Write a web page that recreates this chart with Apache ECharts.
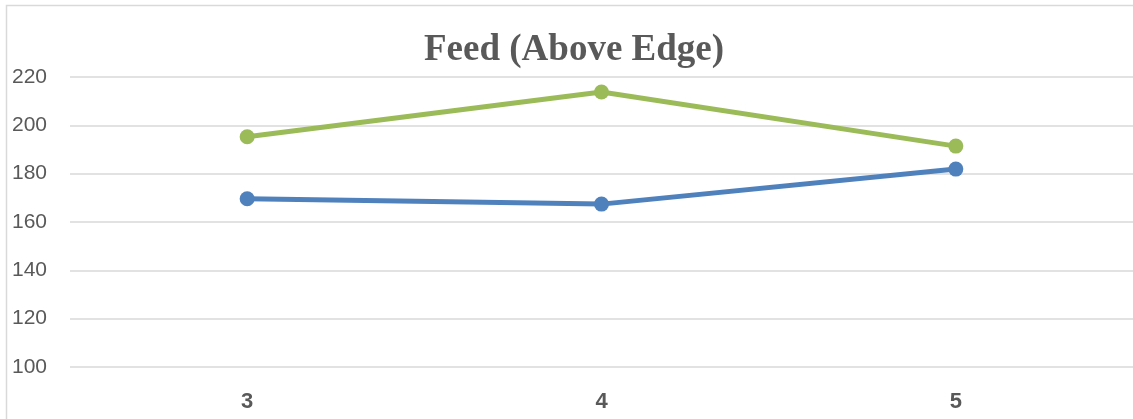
<!DOCTYPE html>
<html>
<head>
<meta charset="utf-8">
<script src="https://cdn.jsdelivr.net/npm/echarts@6/dist/echarts.min.js"></script>
<style>
html, body { margin: 0; padding: 0; background: #fff; }
#chart { width: 1133px; height: 419px; }
</style>
</head>
<body>
<div id="chart"></div>
<script>
// Feed readings per position
const categories = ['3', '4', '5'];
const seriesGreen = [195.3, 213.8, 191.4];
const seriesBlue = [169.6, 167.4, 181.9];
const yTicks = { min: 100, max: 220, interval: 20 };

const chart = echarts.init(document.getElementById('chart'), null, { renderer: 'canvas' });

const lineStyle = (color) => ({
  type: 'line',
  symbol: 'circle',
  symbolSize: 15,
  lineStyle: { color: color, width: 5 },
  itemStyle: { color: color },
  animation: false
});

chart.setOption({
  animation: false,
  graphic: [{
    type: 'rect',
    shape: { x: 6.5, y: 5.5, width: 1200, height: 500 },
    style: { fill: 'none', stroke: '#d9d9d9', lineWidth: 1.5 },
    silent: true
  }],
  title: {
    text: 'Feed (Above Edge)',
    left: 419,
    top: 27,
    textStyle: {
      fontFamily: 'Liberation Serif',
      fontWeight: 'bold',
      fontSize: 37,
      color: '#595959'
    }
  },
  grid: { left: 70, right: 0, top: 77, bottom: 52 },
  xAxis: {
    type: 'category',
    data: categories,
    boundaryGap: true,
    axisLine: { show: false },
    axisTick: { show: false },
    axisLabel: {
      margin: 24,
      fontFamily: 'Liberation Sans',
      fontWeight: 'bold',
      fontSize: 22,
      color: '#595959'
    }
  },
  yAxis: {
    type: 'value',
    min: yTicks.min,
    max: yTicks.max,
    interval: yTicks.interval,
    axisLine: { show: false },
    axisTick: { show: false },
    splitLine: { lineStyle: { color: '#d9d9d9', width: 1.5 } },
    axisLabel: {
      margin: 23,
      fontFamily: 'Liberation Sans',
      fontSize: 21,
      color: '#595959'
    }
  },
  series: [
    Object.assign({ name: 'Green', data: seriesGreen }, lineStyle('#9bbb59')),
    Object.assign({ name: 'Blue', data: seriesBlue }, lineStyle('#4f81bd'))
  ]
});
</script>
</body>
</html>
